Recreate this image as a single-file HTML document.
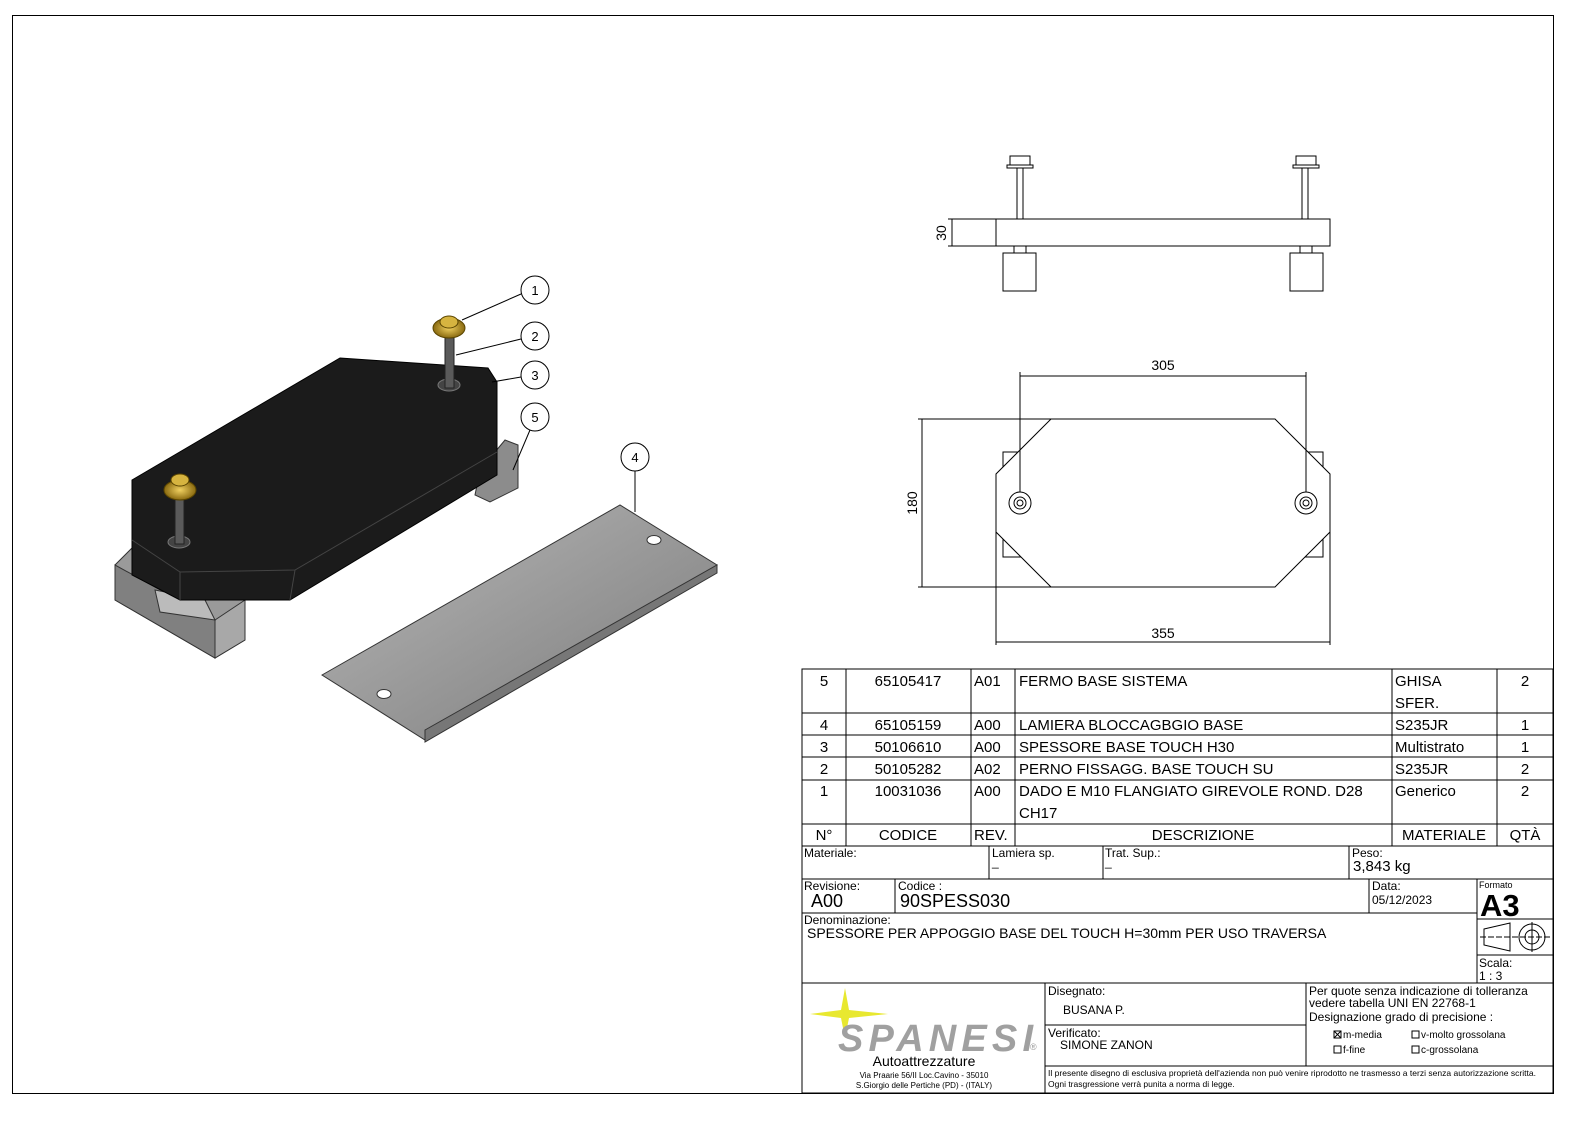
<!DOCTYPE html>
<html><head><meta charset="utf-8"><style>
html,body{margin:0;padding:0;background:#fff;width:1589px;height:1121px;overflow:hidden}
svg{display:block;position:absolute;left:0;top:0}
text{font-family:"Liberation Sans",sans-serif;fill:#000}
</style></head><body>
<svg width="1589" height="1121" viewBox="0 0 1589 1121" xmlns="http://www.w3.org/2000/svg">
<defs>
<linearGradient id="pl" x1="0" y1="0" x2="1" y2="1"><stop offset="0" stop-color="#b8b8b8"/><stop offset="1" stop-color="#7a7a7a"/></linearGradient>
<radialGradient id="nut"><stop offset="0" stop-color="#f0d060"/><stop offset="1" stop-color="#8a6a10"/></radialGradient>
</defs>
<rect x="12.5" y="15.5" width="1541" height="1078" fill="none" stroke="#000" stroke-width="1"/>

<polygon points="115,565 135,545 245,600 245,640 215,658 115,600" fill="#9a9a9a" stroke="#333"/>
<polygon points="115,565 115,600 215,658 215,620" fill="#808080" stroke="#333"/>
<polygon points="215,620 245,600 245,640 215,658" fill="#a8a8a8" stroke="#333"/>
<polygon points="155,590 205,600 215,620 160,612" fill="#bbb" stroke="#333"/>
<polygon points="480,470 505,440 518,445 518,488 490,502 475,495" fill="#8c8c8c" stroke="#333"/>
<polygon points="132,480 340,358 488,368 497,382 497,475 290,600 180,600 132,575" fill="#1b1b1b" stroke="#000"/>
<polyline points="132,540 180,572 295,570 497,452" fill="none" stroke="#444"/>
<line x1="180" y1="572" x2="180" y2="600" stroke="#444"/>
<line x1="295" y1="570" x2="290" y2="600" stroke="#444"/>
<ellipse cx="449" cy="385" rx="11" ry="6" fill="#444" stroke="#777"/>
<ellipse cx="179" cy="542" rx="11" ry="6" fill="#444" stroke="#777"/>
<rect x="445" y="330" width="9" height="58" fill="#5a5a5a" stroke="#222"/>
<ellipse cx="449" cy="328" rx="16" ry="10" fill="url(#nut)" stroke="#5a4500"/>
<ellipse cx="449" cy="322" rx="9" ry="6" fill="#d6b440" stroke="#5a4500"/>
<rect x="175" y="492" width="9" height="52" fill="#5a5a5a" stroke="#222"/>
<ellipse cx="180" cy="490" rx="16" ry="10" fill="url(#nut)" stroke="#5a4500"/>
<ellipse cx="180" cy="480" rx="9" ry="6" fill="#d6b440" stroke="#5a4500"/>
<polygon points="322,675 620,505 717,565 425,740" fill="url(#pl)" stroke="#333"/>
<polygon points="425,730 717,565 717,573 425,742" fill="#777" stroke="#333"/>
<ellipse cx="654" cy="540" rx="7" ry="4.5" fill="#fff" stroke="#333"/>
<ellipse cx="384" cy="694" rx="7" ry="4.5" fill="#fff" stroke="#333"/>
<g fill="#fff" stroke="#000">
<circle cx="535" cy="290" r="14"/><circle cx="535" cy="336" r="14"/><circle cx="535" cy="375" r="14"/><circle cx="535" cy="417" r="14"/><circle cx="635" cy="457" r="14"/>
</g>
<g stroke="#000" fill="none">
<line x1="521" y1="294" x2="462" y2="320"/><line x1="521" y1="339" x2="456" y2="355"/><line x1="521" y1="377" x2="492" y2="382"/><line x1="530" y1="430" x2="513" y2="470"/><line x1="635" y1="471" x2="635" y2="512"/>
</g>
<g font-size="13" text-anchor="middle">
<text x="535" y="295">1</text><text x="535" y="341">2</text><text x="535" y="380">3</text><text x="535" y="422">5</text><text x="635" y="462">4</text>
</g>

<g stroke="#000" fill="#fff" stroke-width="1">
<rect x="996" y="219" width="334" height="27"/>
<rect x="1017" y="168" width="6" height="51"/><rect x="1302" y="168" width="6" height="51"/>
<rect x="1010" y="156" width="20" height="10"/><rect x="1007" y="165" width="26" height="3"/>
<rect x="1296" y="156" width="20" height="10"/><rect x="1293" y="165" width="26" height="3"/>
<rect x="1014" y="246" width="12" height="8"/><rect x="1300" y="246" width="12" height="8"/>
<rect x="1003" y="253" width="33" height="38"/><rect x="1290" y="253" width="33" height="38"/>
</g>
<g stroke="#000" fill="none">
<line x1="948" y1="219" x2="996" y2="219"/><line x1="948" y1="246" x2="996" y2="246"/>
<line x1="952" y1="219" x2="952" y2="246"/>
</g>
<text x="946" y="233" font-size="14" text-anchor="middle" transform="rotate(-90 946 233)">30</text>

<g stroke="#000" fill="#fff">
<rect x="1003" y="452" width="320" height="105"/>
<polygon points="1051,419 1275,419 1330,474 1330,532 1275,587 1051,587 996,532 996,474"/>
<circle cx="1020" cy="503" r="11"/><circle cx="1020" cy="503" r="6"/><circle cx="1020" cy="503" r="3"/>
<circle cx="1306" cy="503" r="11"/><circle cx="1306" cy="503" r="6"/><circle cx="1306" cy="503" r="3"/>
</g>
<g stroke="#000" fill="none">
<line x1="1020" y1="372" x2="1020" y2="492"/><line x1="1306" y1="372" x2="1306" y2="492"/>
<line x1="1020" y1="376" x2="1306" y2="376"/>
<line x1="918" y1="419" x2="1051" y2="419"/><line x1="918" y1="587" x2="1051" y2="587"/>
<line x1="922" y1="419" x2="922" y2="587"/>
<line x1="996" y1="532" x2="996" y2="645"/><line x1="1330" y1="532" x2="1330" y2="645"/>
<line x1="996" y1="642" x2="1330" y2="642"/>
</g>
<text x="1163" y="370" font-size="14" text-anchor="middle">305</text>
<text x="1163" y="638" font-size="14" text-anchor="middle">355</text>
<text x="917" y="503" font-size="14" text-anchor="middle" transform="rotate(-90 917 503)">180</text>

<g stroke="#000" fill="none" stroke-width="1">
<rect x="802" y="669" width="751" height="424"/>
<line x1="802" y1="713" x2="1553" y2="713"/><line x1="802" y1="735" x2="1553" y2="735"/>
<line x1="802" y1="757" x2="1553" y2="757"/><line x1="802" y1="780" x2="1553" y2="780"/>
<line x1="802" y1="824" x2="1553" y2="824"/><line x1="802" y1="846" x2="1553" y2="846"/>
<line x1="846" y1="669" x2="846" y2="846"/><line x1="971" y1="669" x2="971" y2="846"/>
<line x1="1015" y1="669" x2="1015" y2="846"/><line x1="1392" y1="669" x2="1392" y2="846"/>
<line x1="1497" y1="669" x2="1497" y2="846"/>
<line x1="989" y1="846" x2="989" y2="879"/><line x1="1103" y1="846" x2="1103" y2="879"/><line x1="1349" y1="846" x2="1349" y2="879"/>
<line x1="802" y1="879" x2="1553" y2="879"/>
<line x1="895" y1="879" x2="895" y2="913"/><line x1="1369" y1="879" x2="1369" y2="913"/>
<line x1="1477" y1="879" x2="1477" y2="983"/>
<line x1="802" y1="913" x2="1477" y2="913"/>
<line x1="1477" y1="919" x2="1553" y2="919"/><line x1="1477" y1="955" x2="1553" y2="955"/>
<line x1="802" y1="983" x2="1553" y2="983"/>
<line x1="1045" y1="983" x2="1045" y2="1093"/><line x1="1306" y1="983" x2="1306" y2="1066"/>
<line x1="1045" y1="1025" x2="1306" y2="1025"/><line x1="1045" y1="1066" x2="1553" y2="1066"/>
<polygon points="1484,929 1510,923 1510,951 1484,945"/>
<circle cx="1532" cy="937" r="13"/><circle cx="1532" cy="937" r="7"/>
<line x1="1480" y1="937" x2="1550" y2="937" stroke-dasharray="6,2"/>
<line x1="1532" y1="922" x2="1532" y2="952"/>
<rect x="1334" y="1031" width="7" height="7"/><rect x="1334" y="1046" width="7" height="7"/>
<rect x="1412" y="1031" width="7" height="7"/><rect x="1412" y="1046" width="7" height="7"/>
<line x1="1334" y1="1031" x2="1341" y2="1038"/><line x1="1341" y1="1031" x2="1334" y2="1038"/>
</g>
<g font-size="15">
<text x="824" y="686" text-anchor="middle">5</text><text x="908" y="686" text-anchor="middle">65105417</text><text x="974" y="686">A01</text><text x="1019" y="686">FERMO BASE SISTEMA</text><text x="1395" y="686">GHISA</text><text x="1395" y="708">SFER.</text><text x="1525" y="686" text-anchor="middle">2</text>
<text x="824" y="730" text-anchor="middle">4</text><text x="908" y="730" text-anchor="middle">65105159</text><text x="974" y="730">A00</text><text x="1019" y="730">LAMIERA BLOCCAGBGIO BASE</text><text x="1395" y="730">S235JR</text><text x="1525" y="730" text-anchor="middle">1</text>
<text x="824" y="752" text-anchor="middle">3</text><text x="908" y="752" text-anchor="middle">50106610</text><text x="974" y="752">A00</text><text x="1019" y="752">SPESSORE BASE TOUCH H30</text><text x="1395" y="752">Multistrato</text><text x="1525" y="752" text-anchor="middle">1</text>
<text x="824" y="774" text-anchor="middle">2</text><text x="908" y="774" text-anchor="middle">50105282</text><text x="974" y="774">A02</text><text x="1019" y="774">PERNO FISSAGG. BASE TOUCH SU</text><text x="1395" y="774">S235JR</text><text x="1525" y="774" text-anchor="middle">2</text>
<text x="824" y="796" text-anchor="middle">1</text><text x="908" y="796" text-anchor="middle">10031036</text><text x="974" y="796">A00</text><text x="1019" y="796">DADO E M10 FLANGIATO GIREVOLE ROND. D28</text><text x="1019" y="818">CH17</text><text x="1395" y="796">Generico</text><text x="1525" y="796" text-anchor="middle">2</text>
<text x="824" y="840" text-anchor="middle">N°</text><text x="908" y="840" text-anchor="middle">CODICE</text><text x="974" y="840">REV.</text><text x="1203" y="840" text-anchor="middle">DESCRIZIONE</text><text x="1444" y="840" text-anchor="middle">MATERIALE</text><text x="1525" y="840" text-anchor="middle">QTÀ</text>
</g>
<g font-size="12">
<text x="804" y="857">Materiale:</text><text x="992" y="857">Lamiera sp.</text><text x="992" y="866">_</text><text x="1105" y="857">Trat. Sup.:</text><text x="1105" y="866">_</text><text x="1352" y="857">Peso:</text>
<text x="804" y="890">Revisione:</text><text x="898" y="890">Codice :</text><text x="1372" y="890">Data:</text><text x="1372" y="904">05/12/2023</text>
<text x="804" y="924">Denominazione:</text><text x="1479" y="967">Scala:</text><text x="1479" y="980">1 : 3</text>
<text x="1048" y="995">Disegnato:</text><text x="1063" y="1014">BUSANA P.</text><text x="1048" y="1037">Verificato:</text><text x="1060" y="1049">SIMONE ZANON</text>
<text x="1309" y="995">Per quote senza indicazione di tolleranza</text><text x="1309" y="1007">vedere tabella UNI EN 22768-1</text><text x="1309" y="1021">Designazione grado di precisione :</text>
</g>
<text x="1353" y="871" font-size="15">3,843 kg</text>
<text x="811" y="907" font-size="18">A00</text><text x="900" y="907" font-size="18">90SPESS030</text>
<text x="807" y="938" font-size="14">SPESSORE PER APPOGGIO BASE DEL TOUCH H=30mm PER USO TRAVERSA</text>
<text x="1479" y="888" font-size="9">Formato</text><text x="1480" y="916" font-size="31" font-weight="bold">A3</text>
<g font-size="10"><text x="1343" y="1038">m-media</text><text x="1343" y="1053">f-fine</text><text x="1421" y="1038">v-molto grossolana</text><text x="1421" y="1053">c-grossolana</text></g>
<text x="1048" y="1076" font-size="8.5" textLength="488">Il presente disegno di esclusiva proprietà dell'azienda non può venire riprodotto ne trasmesso a terzi senza autorizzazione scritta.</text>
<text x="1048" y="1087" font-size="8.5">Ogni trasgressione verrà punita a norma di legge.</text>
<polygon points="845,988 849,1010 888,1014 849,1018 845,1038 841,1018 810,1014 841,1010" fill="#e8e830"/>
<text x="838" y="1051" font-size="38" font-weight="bold" font-style="italic" style="fill:#a0a0a0" textLength="195">SPANESI</text>
<text x="1030" y="1050" font-size="9" style="fill:#999">®</text>
<text x="924" y="1066" font-size="14" text-anchor="middle">Autoattrezzature</text>
<text x="924" y="1078" font-size="8" text-anchor="middle">Via Praarie 56/II  Loc.Cavino - 35010</text>
<text x="924" y="1088" font-size="8" text-anchor="middle">S.Giorgio delle Pertiche (PD) - (ITALY)</text>
</svg>
</body></html>
